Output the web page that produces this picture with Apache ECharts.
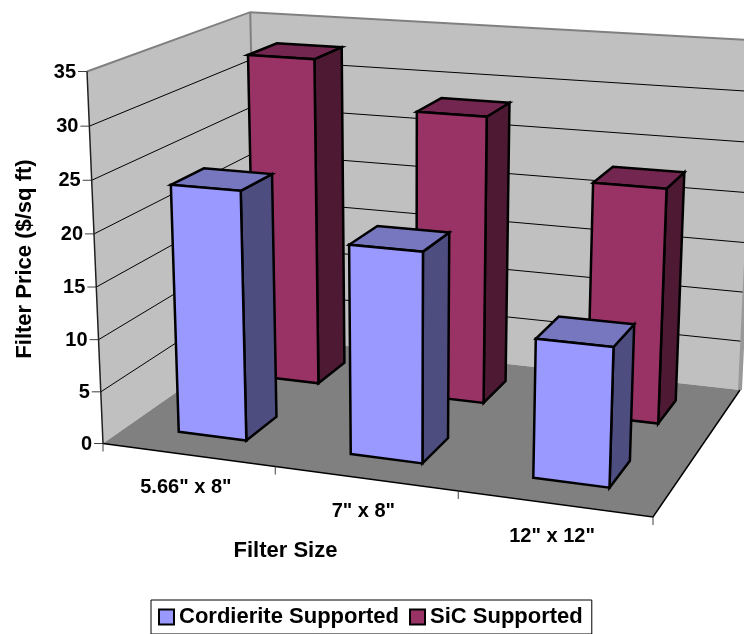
<!DOCTYPE html>
<html><head><meta charset="utf-8">
<script src="https://cdn.jsdelivr.net/npm/echarts@6/dist/echarts.min.js"></script>
<style>html,body{margin:0;background:#fff;overflow:hidden}#c{width:744px;height:634px}</style></head>
<body><div id="c"></div>
<script>
var categories=['5.66" x 8"','7" x 8"','12" x 12"'];
var cordierite=[23.8,19.7,12.8];
var sic=[32.9,28.4,22.8];
var valueTicks=[0,5,10,15,20,25,30,35];

/* perspective box frame, calibrated on the picture */
var FL=[103,443.5],FR=[653,517],BR=[740,390],BL=[257,336],FLt=[87,71.5],BLt=[252,14],BRt=[756,43.5];
var IY=-0.032;
var m=(function(){var x0=FL[0],y0=FL[1],x1=FR[0],y1=FR[1],x2=BR[0],y2=BR[1],x3=BL[0],y3=BL[1];
var dx1=x1-x2,dx2=x3-x2,sx=x0-x1+x2-x3,dy1=y1-y2,dy2=y3-y2,sy=y0-y1+y2-y3,den=dx1*dy2-dx2*dy1;
var g=(sx*dy2-dx2*sy)/den,h=(dx1*sy-sx*dy1)/den;
var r={g:g,h:h,a:x1-x0+g*x1,b:x3-x0+h*x3,c:x0,d:y1-y0+g*y1,e:y3-y0+h*y3,f:y0};
var n=0,dn=0;
[[0,1,BLt],[1,1,BRt]].forEach(function(q){var u=q[0],v=q[1],t=q[2];
 var X=r.a*u+r.b*v+r.c,W=r.g*u+r.h*v+1;
 var A=FLt[0]-t[0],Bx=t[0]*W-X+FL[0]-FLt[0];n+=A*Bx;dn+=A*A;});
r.ix=n/dn;r.cx=FLt[0]*(1+r.ix)-FL[0];r.cy=FLt[1]*(1+IY)-FL[1];return r;})();
function project(u,v,t){var W=m.g*u+m.h*v+1;return [(m.a*u+m.b*v+m.c+m.cx*t)/(W+m.ix*t),(m.d*u+m.e*v+m.f+m.cy*t)/(W+IY*t)];}

var GRID_W=300,GRID_H=350;
var FONT='bold 20px "Liberation Sans", Arial, sans-serif';
var TITLE_FONT='bold 22px "Liberation Sans", Arial, sans-serif';
function poly(pts,fill,stroke,lw){return {type:'polygon',shape:{points:pts},style:{fill:fill,stroke:stroke||null,lineWidth:lw||0,lineJoin:'miter'}};}
function line(pts,stroke,lw){return {type:'polyline',shape:{points:pts},style:{fill:null,stroke:stroke,lineWidth:lw}};}
function text(x,y,s,font,align){return {type:'text',style:{x:x,y:y,text:s,font:font,fill:'#000',align:align||'center',verticalAlign:'middle'}};}

function renderFrame(params,api){
  var ch=[];
  ch.push(poly([project(0,0,0),project(0,1,0),project(0,1,1),project(0,0,1)],'#C0C0C0'));
  ch.push(poly([project(0,1,0),project(1,1,0),project(1,1,1),project(0,1,1)],'#C0C0C0'));
  ch.push(poly([project(0,0,0),project(1,0,0),project(1,1,0),project(0,1,0)],'#808080'));
  valueTicks.forEach(function(v){
    var t=(GRID_H-api.coord([0,v])[1])/GRID_H, p=project(0,0,t);
    if(v>0&&v<35) ch.push(line([p,project(0,1,t),project(1,1,t)],'#000',1));
    ch.push(line([[p[0]-9,p[1]],p],'#404040',1));
    ch.push(text(p[0]-11,p[1]+0.5,String(v),FONT,'right'));
  });
  ch.push(line([project(0,0,1),project(0,1,1),project(1,1,1)],'#808080',2));
  ch.push(line([project(0,1,0),project(0,1,1)],'#808080',2));
  ch.push(line([project(1,1,0),project(1,1,1)],'#999',4));
  ch.push(line([project(0,0,0),project(0,0,1)],'#202020',1.5));
  ch.push(line([project(0,0,0),project(1,0,0),project(1,1,0)],'#000',1.5));
  for(var i=0;i<=categories.length;i++){
    var p=project(i/categories.length,0,0);
    ch.push(line([p,[p[0],p[1]+8]],'#404040',1));
    if(i<categories.length){
      var c=project((i+.5)/categories.length,0,0);
      ch.push(text(c[0]-2,c[1]+33,categories[i],FONT));
    }
  }
  ch.push(text(285.5,550.5,'Filter Size',TITLE_FONT));
  var yt=text(0,0,'Filter Price ($/sq ft)',TITLE_FONT);
  yt.x=25;yt.y=259;yt.rotation=Math.PI/2;
  ch.push(yt);
  return {type:'group',children:ch};
}

function barRenderer(vCenter,front,side,top){
  return function(params,api){
    var c=api.coord([api.value(0),api.value(1)]);
    var u=c[0]/GRID_W, hw=api.size([1,0])[0]/GRID_W*0.2, t=(GRID_H-c[1])/GRID_H;
    var u0=u-hw,u1=u+hw,v0=vCenter-0.1,v1=vCenter+0.1,S='#000',L=2.5;
    return {type:'group',children:[
      poly([project(u1,v0,0),project(u1,v1,0),project(u1,v1,t),project(u1,v0,t)],side,S,L),
      poly([project(u0,v0,t),project(u1,v0,t),project(u1,v1,t),project(u0,v1,t)],top,S,L),
      poly([project(u0,v0,0),project(u1,v0,0),project(u1,v0,t),project(u0,v0,t)],front,S,L)
    ]};
  };
}
function rows(a){return a.map(function(v,i){return [i,v];});}

var chart=echarts.init(document.getElementById('c'),null,{renderer:'canvas'});
chart.setOption({
  animation:false,
  backgroundColor:'#fff',
  grid:{left:0,top:0,width:GRID_W,height:GRID_H,show:false},
  xAxis:{type:'category',data:categories,show:false},
  yAxis:{type:'value',min:0,max:35,interval:5,show:false},
  tooltip:{show:false},
  legend:{
    data:['Cordierite Supported','SiC Supported'],
    left:151,top:600,padding:[6,9,6,7],itemGap:10,itemWidth:15,itemHeight:15,
    icon:'rect',selectedMode:false,borderColor:'#000',borderWidth:1,backgroundColor:'#fff',
    itemStyle:{borderColor:'#000',borderWidth:2},
    textStyle:{fontFamily:'"Liberation Sans", Arial, sans-serif',fontWeight:'bold',fontSize:22,color:'#000'}
  },
  series:[
    {type:'custom',name:'frame',data:[[0,0]],renderItem:renderFrame,silent:true,z:1},
    {type:'custom',name:'SiC Supported',data:rows(sic),renderItem:barRenderer(0.75,'#993366','#4D1933','#732650'),itemStyle:{color:'#993366'},silent:true,z:2},
    {type:'custom',name:'Cordierite Supported',data:rows(cordierite),renderItem:barRenderer(0.25,'#9999FF','#4D4D80','#7777BF'),itemStyle:{color:'#9999FF'},silent:true,z:3}
  ]
});
</script></body></html>
